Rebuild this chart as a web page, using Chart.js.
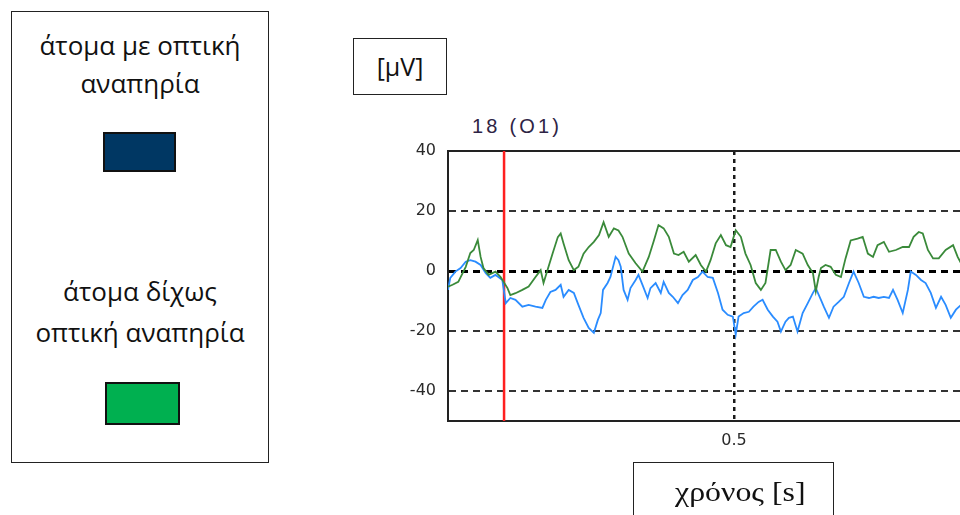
<!DOCTYPE html>
<html>
<head>
<meta charset="utf-8">
<script src="https://cdn.jsdelivr.net/npm/chart.js@4"></script>
<style>
  html, body { margin: 0; padding: 0; background: #fff; width: 960px; height: 515px; overflow: hidden; position: relative; }
  .box { position: absolute; border: 1.5px solid #222; box-sizing: border-box; }
  .lbl { position: absolute; font-family: "Open Sans", "Noto Sans", sans-serif; font-size: 26px; color: #111; text-align: center; white-space: nowrap; }
  .swatch { position: absolute; border: 2px solid #111; box-sizing: border-box; }
  #chartWrap { position: absolute; left: 380px; top: 0; width: 640px; height: 515px; }
  #title { position: absolute; left: 472px; top: 115px; font-family: "Liberation Sans", Arial, sans-serif; font-size: 20px; letter-spacing: 3.2px; color: #2e2345; white-space: nowrap; }
  #timeLbl { position: absolute; left: 675px; top: 477px; font-family: "Liberation Serif", "Times New Roman", Times, serif; font-size: 27px; line-height: 30px; color: #111; white-space: nowrap; transform: scaleX(1.18); transform-origin: 0 0; }
</style>
</head>
<body>

<div class="box" style="left:11px; top:11px; width:258px; height:452px;"></div>
<div class="lbl" style="left:11px; width:258px; top:26px; line-height:38px;">άτομα με οπτική<br>αναπηρία</div>
<div class="swatch" style="left:103px; top:132px; width:73px; height:40px; background:#003763;"></div>
<div class="lbl" style="left:11px; width:258px; top:271px; line-height:41px;">άτομα δίχως<br>οπτική αναπηρία</div>
<div class="swatch" style="left:105px; top:382px; width:75px; height:43px; background:#00b050;"></div>

<div class="box" style="left:353px; top:38px; width:94px; height:57px;"></div>
<div class="lbl" style="left:353px; width:94px; top:47px; line-height:38px; font-size:25px;">[μV]</div>

<div id="title">18 (O1)</div>

<div id="chartWrap"><canvas id="eegChart" width="640" height="515"></canvas></div>

<div class="box" style="left:633px; top:462px; width:201px; height:70px;"></div>
<div id="timeLbl">χρόνος [s]</div>

<script>
// time [s] and amplitude [uV]
const greenTime = [0.000,0.008,0.018,0.031,0.039,0.045,0.052,0.057,0.062,0.071,
  0.083,0.092,0.104,0.109,0.118,0.130,0.141,0.153,0.162,0.167,
  0.174,0.183,0.192,0.197,0.202,0.211,0.220,0.228,0.237,0.246,
  0.255,0.264,0.272,0.281,0.290,0.298,0.305,0.316,0.328,0.340,
  0.351,0.360,0.368,0.377,0.386,0.395,0.403,0.412,0.421,0.433,
  0.442,0.451,0.459,0.468,0.477,0.486,0.494,0.503,0.512,0.520,
  0.529,0.538,0.547,0.555,0.564,0.573,0.582,0.590,0.599,0.608,
  0.620,0.629,0.638,0.643,0.648,0.652,0.660,0.669,0.678,0.687,
  0.695,0.704,0.716,0.725,0.734,0.743,0.751,0.762,0.771,0.783,
  0.795,0.806,0.814,0.823,0.830,0.839,0.848,0.858,0.870,0.883,
  0.891,0.897];
const greenUV = [-5.2,-4.6,-3.6,1.4,6,7,10.3,4.7,1,-1.3,
  -0.2,-2,-5.7,-8,-7.4,-6.3,-5.2,-2,0.3,-4,
  0.3,5.9,11.3,12.5,9.2,3.6,0.3,1.4,5.8,8,
  9.7,12,16.3,11.4,14.2,13.5,11.4,5.8,2.6,-0.2,
  4.7,10.2,15.3,14.2,11.4,5.8,5.3,6.4,3.1,5.3,
  2,-0.2,3.6,9.2,12,8.6,8,13.6,11.4,5.8,
  2,-4,-6.3,-4,7,7,3.1,0.3,2,7,
  5.8,2,-0.7,-6.8,-2,1,2,1.4,-1.3,-2,
  4.2,10.2,10.8,11.4,5.8,4.7,8.6,9.7,6.4,7,
  8,8,11.4,13,12.5,7,4.2,4.2,7,8.6,
  4.7,2.6];

const blueTime = [0.000,0.004,0.013,0.022,0.031,0.039,0.048,0.057,0.066,0.074,
  0.083,0.088,0.095,0.101,0.109,0.118,0.130,0.141,0.153,0.165,
  0.171,0.179,0.188,0.197,0.202,0.211,0.220,0.228,0.237,0.246,
  0.255,0.262,0.267,0.271,0.279,0.284,0.293,0.298,0.302,0.307,
  0.314,0.319,0.328,0.333,0.340,0.349,0.354,0.363,0.372,0.377,
  0.386,0.393,0.402,0.410,0.419,0.428,0.437,0.445,0.454,0.463,
  0.472,0.480,0.489,0.498,0.503,0.508,0.517,0.526,0.534,0.543,
  0.550,0.559,0.568,0.576,0.582,0.590,0.596,0.603,0.611,0.620,
  0.629,0.638,0.643,0.652,0.657,0.666,0.674,0.683,0.692,0.701,
  0.709,0.718,0.727,0.736,0.744,0.753,0.762,0.771,0.778,0.786,
  0.795,0.804,0.809,0.818,0.827,0.835,0.844,0.853,0.862,0.870,
  0.879,0.888,0.897];
const blueUV = [-6.3,-2.3,-0.2,1,3.1,3.6,3.1,2,-0.7,-2.3,
  -1.3,-2,-3,-10.7,-9,-9.6,-11.9,-11.3,-11.9,-12.3,
  -9.6,-7,-6.3,-4.6,-8.6,-6.3,-7.3,-11.3,-15.6,-19,
  -20.6,-16.3,-14,-6.3,-4,-2,4.7,3.6,1.4,-6.3,
  -9.6,-5.7,-3,-1.3,-4.6,-9,-5.7,-4,-7.3,-3.6,
  -7.3,-8.6,-10.7,-8,-6.3,-3,-2,-0.2,-2,-2.3,
  -7.3,-12.9,-14.6,-15.2,-21.2,-15.2,-14,-13.6,-11.9,-10.3,
  -9.6,-12.9,-15.2,-16.9,-20.2,-16.9,-15.6,-15.2,-20.2,-14,
  -10.7,-7.3,-5.7,-9.6,-11.9,-15.6,-11.9,-10.3,-8.6,-4,
  -0.2,-4,-8.6,-9,-8.6,-9,-8.6,-9,-6.3,-9.6,
  -14,-6.3,-0.2,-1.3,-3,-4,-7.3,-12.3,-8.6,-11.3,
  -15.6,-12.9,-11.3];

const markerTime = 0.098;
const yMin = -50, yMax = 40;
const yTicks = [-40, -20, 0, 20, 40];
const xTicks = [0.5];

function toPoints(ts, vs) {
  return ts.map((t, i) => ({x: t, y: vs[i]}));
}

// solid top edge of the plot frame
const frameTop = {
  id: 'frameTop',
  beforeDatasetsDraw(chart) {
    const {ctx, chartArea} = chart;
    ctx.save();
    ctx.strokeStyle = '#222';
    ctx.lineWidth = 2;
    ctx.beginPath();
    ctx.moveTo(chartArea.left, chartArea.top);
    ctx.lineTo(chartArea.right, chartArea.top);
    ctx.stroke();
    ctx.restore();
  }
};

const ctx = document.getElementById('eegChart').getContext('2d');
new Chart(ctx, {
  type: 'line',
  data: {
    datasets: [{
      label: 'green',
      data: toPoints(greenTime, greenUV),
      borderColor: '#3a8a3a',
      borderWidth: 1.8,
      pointRadius: 0
    }, {
      label: 'blue',
      data: toPoints(blueTime, blueUV),
      borderColor: '#2a8cff',
      borderWidth: 1.8,
      pointRadius: 0
    }, {
      label: 'marker',
      data: [{x: markerTime, y: yMin}, {x: markerTime, y: yMax}],
      borderColor: '#ff2020',
      borderWidth: 2.5,
      pointRadius: 0
    }]
  },
  options: {
    responsive: false,
    animation: false,
    layout: { padding: { left: 0, right: 0, top: 151, bottom: 64 } },
    plugins: { legend: { display: false }, tooltip: { enabled: false } },
    scales: {
      x: {
        type: 'linear',
        min: 0,
        max: 1,
        afterBuildTicks: s => { s.ticks = xTicks.map(v => ({value: v})); },
        afterFit: s => { s.height = 30; },
        ticks: {
          padding: 10,
          color: '#2a2a2a',
          font: { family: 'DejaVu Sans', size: 16 },
          callback: v => String(v)
        },
        grid: {
          drawTicks: false,
          color: '#1a1a1a',
          lineWidth: 2.5
        },
        border: { display: true, color: '#222', width: 2, dash: [4, 4] }
      },
      y: {
        type: 'linear',
        min: yMin,
        max: yMax,
        afterBuildTicks: s => { s.ticks = yTicks.map(v => ({value: v})); },
        afterFit: s => { s.width = 68; },
        ticks: {
          padding: 12,
          color: '#2a2a2a',
          font: { family: 'DejaVu Sans', size: 16 },
          callback: v => String(v)
        },
        grid: {
          drawTicks: false,
          color: c => c.tick && c.tick.value === yMax ? 'rgba(0,0,0,0)' : (c.tick && c.tick.value === 0 ? '#000' : '#333'),
          lineWidth: c => c.tick && c.tick.value === 0 ? 3 : 2
        },
        border: { display: true, color: '#222', width: 2, dash: [7, 5] }
      }
    }
  },
  plugins: [frameTop]
});
</script>
</body>
</html>
